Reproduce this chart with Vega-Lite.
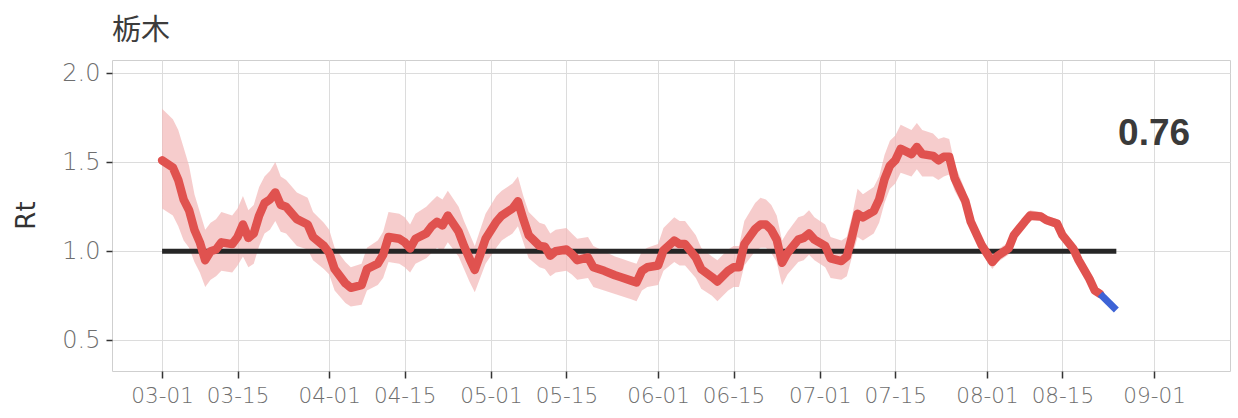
{
  "$schema": "https://vega.github.io/schema/vega-lite/v6.json",
  "width": 1118,
  "height": 311,
  "autosize": "none",
  "padding": {"left": 112, "top": 60, "right": 8, "bottom": 47},
  "background": "white",
  "title": {
    "text": "栃木",
    "anchor": "start",
    "frame": "group",
    "offset": 14,
    "font": "Noto Sans CJK JP",
    "fontSize": 29,
    "fontWeight": "normal",
    "color": "#3c3c3c"
  },
  "config": {
    "view": {"stroke": "#cfcfcf", "strokeWidth": 1},
    "axis": {
      "domain": false,
      "gridColor": "#dcdcdc",
      "gridWidth": 1,
      "tickColor": "#333333",
      "tickWidth": 1.5,
      "labelFont": "DejaVu Sans",
      "labelFontWeight": 300,
      "labelColor": "#6e6e6e",
      "titleFont": "DejaVu Sans",
      "titleFontWeight": "normal",
      "titleColor": "#333333"
    }
  },
  "datasets": {
    "rt": [
      {"date": "2020-03-01", "rt": 1.51, "lo": 1.24, "hi": 1.8},
      {"date": "2020-03-03", "rt": 1.47, "lo": 1.2, "hi": 1.74},
      {"date": "2020-03-04", "rt": 1.4, "lo": 1.14, "hi": 1.68},
      {"date": "2020-03-05", "rt": 1.29, "lo": 1.06, "hi": 1.58},
      {"date": "2020-03-06", "rt": 1.23, "lo": 1.02, "hi": 1.48},
      {"date": "2020-03-07", "rt": 1.12, "lo": 0.94, "hi": 1.32},
      {"date": "2020-03-08", "rt": 1.05, "lo": 0.88, "hi": 1.22},
      {"date": "2020-03-09", "rt": 0.95, "lo": 0.8, "hi": 1.12},
      {"date": "2020-03-10", "rt": 1.0, "lo": 0.84, "hi": 1.16},
      {"date": "2020-03-11", "rt": 1.01, "lo": 0.86, "hi": 1.18},
      {"date": "2020-03-12", "rt": 1.05, "lo": 0.89, "hi": 1.22},
      {"date": "2020-03-14", "rt": 1.04, "lo": 0.88, "hi": 1.2},
      {"date": "2020-03-15", "rt": 1.08, "lo": 0.92, "hi": 1.24},
      {"date": "2020-03-16", "rt": 1.15, "lo": 0.97, "hi": 1.31},
      {"date": "2020-03-17", "rt": 1.075, "lo": 0.91, "hi": 1.23},
      {"date": "2020-03-18", "rt": 1.1, "lo": 0.93, "hi": 1.26},
      {"date": "2020-03-19", "rt": 1.2, "lo": 1.03, "hi": 1.36},
      {"date": "2020-03-20", "rt": 1.27, "lo": 1.1, "hi": 1.42},
      {"date": "2020-03-21", "rt": 1.29, "lo": 1.12, "hi": 1.45},
      {"date": "2020-03-22", "rt": 1.33, "lo": 1.17, "hi": 1.5},
      {"date": "2020-03-23", "rt": 1.26, "lo": 1.11, "hi": 1.42},
      {"date": "2020-03-24", "rt": 1.25, "lo": 1.1, "hi": 1.4},
      {"date": "2020-03-26", "rt": 1.18, "lo": 1.03, "hi": 1.33},
      {"date": "2020-03-28", "rt": 1.15, "lo": 1.01, "hi": 1.3},
      {"date": "2020-03-29", "rt": 1.08, "lo": 0.95, "hi": 1.22},
      {"date": "2020-03-31", "rt": 1.03, "lo": 0.9, "hi": 1.16},
      {"date": "2020-04-01", "rt": 0.99, "lo": 0.87, "hi": 1.12},
      {"date": "2020-04-02", "rt": 0.9, "lo": 0.78, "hi": 1.02},
      {"date": "2020-04-04", "rt": 0.82, "lo": 0.71, "hi": 0.94},
      {"date": "2020-04-05", "rt": 0.795, "lo": 0.69, "hi": 0.91},
      {"date": "2020-04-07", "rt": 0.81, "lo": 0.7, "hi": 0.93},
      {"date": "2020-04-08", "rt": 0.9, "lo": 0.78, "hi": 1.02},
      {"date": "2020-04-10", "rt": 0.93, "lo": 0.81, "hi": 1.06},
      {"date": "2020-04-11", "rt": 0.98, "lo": 0.85, "hi": 1.11},
      {"date": "2020-04-12", "rt": 1.08, "lo": 0.94, "hi": 1.22},
      {"date": "2020-04-14", "rt": 1.07, "lo": 0.93, "hi": 1.21},
      {"date": "2020-04-15", "rt": 1.05, "lo": 0.91, "hi": 1.19},
      {"date": "2020-04-16", "rt": 1.015, "lo": 0.88, "hi": 1.15},
      {"date": "2020-04-17", "rt": 1.07, "lo": 0.93, "hi": 1.21},
      {"date": "2020-04-19", "rt": 1.1, "lo": 0.96, "hi": 1.25},
      {"date": "2020-04-20", "rt": 1.14, "lo": 0.99, "hi": 1.28},
      {"date": "2020-04-21", "rt": 1.165, "lo": 1.02, "hi": 1.31},
      {"date": "2020-04-22", "rt": 1.145, "lo": 1.0, "hi": 1.29},
      {"date": "2020-04-23", "rt": 1.2, "lo": 1.05, "hi": 1.34},
      {"date": "2020-04-25", "rt": 1.11, "lo": 0.97, "hi": 1.25},
      {"date": "2020-04-26", "rt": 1.03, "lo": 0.9, "hi": 1.17},
      {"date": "2020-04-27", "rt": 0.96, "lo": 0.83, "hi": 1.1},
      {"date": "2020-04-28", "rt": 0.895, "lo": 0.77, "hi": 1.03},
      {"date": "2020-04-29", "rt": 0.98, "lo": 0.85, "hi": 1.12},
      {"date": "2020-04-30", "rt": 1.07, "lo": 0.93, "hi": 1.21},
      {"date": "2020-05-02", "rt": 1.165, "lo": 1.02, "hi": 1.31},
      {"date": "2020-05-03", "rt": 1.2, "lo": 1.06, "hi": 1.34},
      {"date": "2020-05-05", "rt": 1.24, "lo": 1.1, "hi": 1.38},
      {"date": "2020-05-06", "rt": 1.28, "lo": 1.14, "hi": 1.42},
      {"date": "2020-05-07", "rt": 1.18, "lo": 1.05, "hi": 1.31},
      {"date": "2020-05-08", "rt": 1.09, "lo": 0.96, "hi": 1.22},
      {"date": "2020-05-10", "rt": 1.03, "lo": 0.91, "hi": 1.16},
      {"date": "2020-05-11", "rt": 1.025, "lo": 0.9, "hi": 1.15},
      {"date": "2020-05-12", "rt": 0.975, "lo": 0.86, "hi": 1.1},
      {"date": "2020-05-13", "rt": 1.0, "lo": 0.88, "hi": 1.12},
      {"date": "2020-05-15", "rt": 1.01, "lo": 0.89, "hi": 1.13},
      {"date": "2020-05-16", "rt": 0.985, "lo": 0.87, "hi": 1.1},
      {"date": "2020-05-17", "rt": 0.95, "lo": 0.84, "hi": 1.07},
      {"date": "2020-05-19", "rt": 0.965, "lo": 0.85, "hi": 1.08},
      {"date": "2020-05-20", "rt": 0.91, "lo": 0.8, "hi": 1.03},
      {"date": "2020-05-22", "rt": 0.89, "lo": 0.78, "hi": 1.0},
      {"date": "2020-05-24", "rt": 0.865, "lo": 0.76, "hi": 0.97},
      {"date": "2020-05-25", "rt": 0.855, "lo": 0.75, "hi": 0.96},
      {"date": "2020-05-27", "rt": 0.835, "lo": 0.73, "hi": 0.94},
      {"date": "2020-05-28", "rt": 0.825, "lo": 0.72, "hi": 0.93},
      {"date": "2020-05-29", "rt": 0.89, "lo": 0.78, "hi": 1.0},
      {"date": "2020-05-30", "rt": 0.91, "lo": 0.8, "hi": 1.02},
      {"date": "2020-06-01", "rt": 0.92, "lo": 0.81, "hi": 1.04},
      {"date": "2020-06-02", "rt": 1.005, "lo": 0.89, "hi": 1.13},
      {"date": "2020-06-04", "rt": 1.06, "lo": 0.94, "hi": 1.19},
      {"date": "2020-06-05", "rt": 1.04, "lo": 0.92, "hi": 1.17},
      {"date": "2020-06-06", "rt": 1.04, "lo": 0.92, "hi": 1.17},
      {"date": "2020-06-08", "rt": 0.965, "lo": 0.85, "hi": 1.09},
      {"date": "2020-06-09", "rt": 0.9, "lo": 0.79, "hi": 1.02},
      {"date": "2020-06-11", "rt": 0.855, "lo": 0.75, "hi": 0.97},
      {"date": "2020-06-12", "rt": 0.83, "lo": 0.72, "hi": 0.95},
      {"date": "2020-06-14", "rt": 0.89, "lo": 0.78, "hi": 1.01},
      {"date": "2020-06-15", "rt": 0.91, "lo": 0.8, "hi": 1.03},
      {"date": "2020-06-16", "rt": 0.91, "lo": 0.8, "hi": 1.03},
      {"date": "2020-06-17", "rt": 1.04, "lo": 0.92, "hi": 1.17},
      {"date": "2020-06-19", "rt": 1.125, "lo": 1.0, "hi": 1.27},
      {"date": "2020-06-20", "rt": 1.15, "lo": 1.02, "hi": 1.3},
      {"date": "2020-06-21", "rt": 1.15, "lo": 1.02, "hi": 1.29},
      {"date": "2020-06-22", "rt": 1.12, "lo": 0.99, "hi": 1.26},
      {"date": "2020-06-23", "rt": 1.065, "lo": 0.94, "hi": 1.2},
      {"date": "2020-06-24", "rt": 0.935, "lo": 0.81, "hi": 1.06},
      {"date": "2020-06-25", "rt": 0.99, "lo": 0.87, "hi": 1.11},
      {"date": "2020-06-27", "rt": 1.065, "lo": 0.94, "hi": 1.19},
      {"date": "2020-06-28", "rt": 1.075, "lo": 0.95, "hi": 1.2},
      {"date": "2020-06-29", "rt": 1.1, "lo": 0.98, "hi": 1.23},
      {"date": "2020-06-30", "rt": 1.065, "lo": 0.95, "hi": 1.19},
      {"date": "2020-07-02", "rt": 1.03, "lo": 0.91, "hi": 1.15},
      {"date": "2020-07-03", "rt": 0.96, "lo": 0.85, "hi": 1.08},
      {"date": "2020-07-05", "rt": 0.945, "lo": 0.84, "hi": 1.06},
      {"date": "2020-07-06", "rt": 0.97, "lo": 0.86, "hi": 1.08},
      {"date": "2020-07-07", "rt": 1.085, "lo": 0.97, "hi": 1.2},
      {"date": "2020-07-08", "rt": 1.21, "lo": 1.08, "hi": 1.35},
      {"date": "2020-07-09", "rt": 1.19, "lo": 1.06, "hi": 1.32},
      {"date": "2020-07-11", "rt": 1.225, "lo": 1.1, "hi": 1.36},
      {"date": "2020-07-12", "rt": 1.29, "lo": 1.16, "hi": 1.42},
      {"date": "2020-07-13", "rt": 1.405, "lo": 1.27, "hi": 1.54},
      {"date": "2020-07-14", "rt": 1.48, "lo": 1.35, "hi": 1.62},
      {"date": "2020-07-15", "rt": 1.51, "lo": 1.38, "hi": 1.65},
      {"date": "2020-07-16", "rt": 1.575, "lo": 1.44, "hi": 1.71},
      {"date": "2020-07-18", "rt": 1.545, "lo": 1.42, "hi": 1.68},
      {"date": "2020-07-19", "rt": 1.585, "lo": 1.46, "hi": 1.72},
      {"date": "2020-07-20", "rt": 1.545, "lo": 1.42, "hi": 1.68},
      {"date": "2020-07-22", "rt": 1.535, "lo": 1.42, "hi": 1.66},
      {"date": "2020-07-23", "rt": 1.51, "lo": 1.4, "hi": 1.63},
      {"date": "2020-07-24", "rt": 1.53, "lo": 1.42, "hi": 1.64},
      {"date": "2020-07-25", "rt": 1.53, "lo": 1.43, "hi": 1.63},
      {"date": "2020-07-26", "rt": 1.41, "lo": 1.34, "hi": 1.49},
      {"date": "2020-07-28", "rt": 1.28, "lo": 1.23, "hi": 1.34},
      {"date": "2020-07-29", "rt": 1.165, "lo": 1.12, "hi": 1.21},
      {"date": "2020-07-31", "rt": 1.035, "lo": 0.99, "hi": 1.08},
      {"date": "2020-08-02", "rt": 0.94, "lo": 0.9, "hi": 0.98},
      {"date": "2020-08-03", "rt": 0.975, "lo": 0.94, "hi": 1.01},
      {"date": "2020-08-05", "rt": 1.015, "lo": 0.98, "hi": 1.05},
      {"date": "2020-08-06", "rt": 1.09, "lo": 1.06, "hi": 1.12},
      {"date": "2020-08-08", "rt": 1.165, "lo": 1.14, "hi": 1.19},
      {"date": "2020-08-09", "rt": 1.2, "lo": 1.17, "hi": 1.23},
      {"date": "2020-08-11", "rt": 1.195, "lo": 1.17, "hi": 1.22},
      {"date": "2020-08-12", "rt": 1.175, "lo": 1.15, "hi": 1.2},
      {"date": "2020-08-14", "rt": 1.155, "lo": 1.13, "hi": 1.18},
      {"date": "2020-08-15", "rt": 1.09, "lo": 1.07, "hi": 1.11},
      {"date": "2020-08-17", "rt": 1.015, "lo": 1.0, "hi": 1.03},
      {"date": "2020-08-18", "rt": 0.95, "lo": 0.94, "hi": 0.96},
      {"date": "2020-08-20", "rt": 0.845, "lo": 0.84, "hi": 0.85},
      {"date": "2020-08-21", "rt": 0.78, "lo": 0.775, "hi": 0.785},
      {"date": "2020-08-22", "rt": 0.76, "lo": 0.757, "hi": 0.763}
    ],
    "proj": [
      {"date": "2020-08-22", "rt": 0.76},
      {"date": "2020-08-25", "rt": 0.67}
    ],
    "ref": [
      {"date": "2020-03-01", "rt": 1.0},
      {"date": "2020-08-25", "rt": 1.0}
    ],
    "lab": [
      {"date": "2020-09-01", "rt": 1.66, "label": "0.76"}
    ]
  },
  "layer": [
    {
      "data": {"name": "rt"},
      "mark": {"type": "area", "color": "#f2b9b9", "opacity": 0.72},
      "encoding": {
        "x": {
          "field": "date",
          "type": "temporal",
          "title": null,
          "scale": {
            "type": "utc",
            "domain": [
              {"year": 2020, "month": 2, "date": 20, "hours": 17, "utc": true},
              {"year": 2020, "month": 9, "date": 15, "hours": 2, "utc": true}
            ]
          },
          "axis": {
            "format": "%m-%d",
            "values": [
              {"year": 2020, "month": 3, "date": 1, "utc": true},
              {"year": 2020, "month": 3, "date": 15, "utc": true},
              {"year": 2020, "month": 4, "date": 1, "utc": true},
              {"year": 2020, "month": 4, "date": 15, "utc": true},
              {"year": 2020, "month": 5, "date": 1, "utc": true},
              {"year": 2020, "month": 5, "date": 15, "utc": true},
              {"year": 2020, "month": 6, "date": 1, "utc": true},
              {"year": 2020, "month": 6, "date": 15, "utc": true},
              {"year": 2020, "month": 7, "date": 1, "utc": true},
              {"year": 2020, "month": 7, "date": 15, "utc": true},
              {"year": 2020, "month": 8, "date": 1, "utc": true},
              {"year": 2020, "month": 8, "date": 15, "utc": true},
              {"year": 2020, "month": 9, "date": 1, "utc": true}
            ],
            "labelFontSize": 21.5,
            "tickSize": 7,
            "labelPadding": 7,
            "labelFlush": false,
            "labelOverlap": false
          }
        },
        "y": {
          "field": "lo",
          "type": "quantitative",
          "title": "Rt",
          "scale": {"domain": [0.328, 2.073], "nice": false, "zero": false},
          "axis": {
            "values": [0.5, 1.0, 1.5, 2.0],
            "format": ".1f",
            "labelFontSize": 24,
            "tickSize": 6,
            "labelPadding": 6,
            "titleFontSize": 26,
            "titleX": -86,
            "titleY": 155,
            "titleAlign": "center",
            "titleBaseline": "middle",
            "titleAngle": -90
          }
        },
        "y2": {"field": "hi"}
      }
    },
    {
      "data": {"name": "ref"},
      "mark": {"type": "line", "color": "#262626", "strokeWidth": 5},
      "encoding": {
        "x": {"field": "date", "type": "temporal", "title": null},
        "y": {"field": "rt", "type": "quantitative", "title": "Rt"}
      }
    },
    {
      "data": {"name": "rt"},
      "mark": {"type": "line", "color": "#e0524f", "strokeWidth": 8.5, "strokeJoin": "round", "strokeCap": "round"},
      "encoding": {
        "x": {"field": "date", "type": "temporal", "title": null},
        "y": {"field": "rt", "type": "quantitative", "title": "Rt"}
      }
    },
    {
      "data": {"name": "proj"},
      "mark": {"type": "line", "color": "#3d63d6", "strokeWidth": 7},
      "encoding": {
        "x": {"field": "date", "type": "temporal", "title": null},
        "y": {"field": "rt", "type": "quantitative", "title": "Rt"}
      }
    },
    {
      "data": {"name": "lab"},
      "mark": {"type": "text", "font": "Liberation Sans", "fontWeight": "bold", "fontSize": 37, "color": "#3a3a3a", "align": "center", "baseline": "middle"},
      "encoding": {
        "x": {"field": "date", "type": "temporal", "title": null},
        "y": {"field": "rt", "type": "quantitative", "title": "Rt"},
        "text": {"field": "label"}
      }
    }
  ]
}
